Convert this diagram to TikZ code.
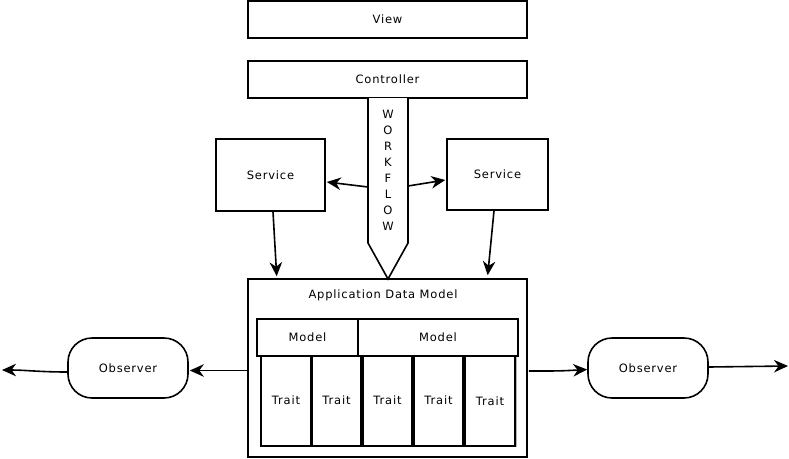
\documentclass[tikz,border=0pt]{standalone}
\usepackage{fontspec}
\setmainfont{DejaVu Sans}[LetterSpace=7]
\usetikzlibrary{arrows.meta,calc}
\begin{document}
\begin{tikzpicture}[x=1pt,y=-1pt,
  lbl/.style={font=\fontsize{11.5}{13}\selectfont},
  box/.style={draw,line width=1.6pt,inner sep=0pt,lbl},
  obs/.style={box,rounded corners=24pt,minimum width=120pt,minimum height=60pt},
  trait/.style={box,minimum width=49pt,minimum height=90pt},
  arr/.style={line width=1.6pt,-{Stealth[length=14pt,width=12.5pt,inset=4.5pt]}},
]
\useasboundingbox (0,0) rectangle (789,458);

% top layer
\node[box,minimum width=279pt,minimum height=37pt] (view) at (387.5,19.5) {View};
\node[box,minimum width=279pt,minimum height=37pt] (ctrl) at (387.5,79.5) {Controller};

% services
\node[box,minimum width=109pt,minimum height=72pt] (svcL) at (270.5,175) {Service};
\node[box,minimum width=101pt,minimum height=71pt] (svcR) at (497.5,174.5) {Service};

% workflow arrow hanging below the controller
\draw[line width=1.6pt,line join=miter,fill=white]
  (368,98) -- (368,243) -- (388,279) -- (408,243) -- (408,98);
\node[lbl,align=center,inner sep=0pt,font=\fontsize{11.5}{16}\selectfont] (wf) at (388,170.5)
  {W\\O\\R\\K\\F\\L\\O\\W};
\coordinate (wfL) at (368,187);
\coordinate (wfR) at (408,186);

% application data model
\node[box,minimum width=279pt,minimum height=178pt] (adm) at (387.5,368) {};
\node[lbl] (admlbl) at (383,295) {Application Data Model};
\node[box,minimum width=101pt,minimum height=37pt] (m1) at (307.5,337.5) {Model};
\node[box,minimum width=160pt,minimum height=37pt] (m2) at (438,337.5) {Model};

% traits, with a faint grey edge on the right
\foreach \x/\w/\n in {286/50/1,336.5/49/2,438.5/49/4,490/50/5}
  \draw[gray!60,line width=0.8pt] (\x+\w/2+1.4,357) -- (\x+\w/2+1.4,446.5);
\node[trait,minimum width=50pt] (t1) at (286,401) {};
\node[trait] (t2) at (336.5,401) {};
\node[trait] (t3) at (387.5,401) {};
\node[trait] (t4) at (438.5,401) {};
\node[trait,minimum width=50pt] (t5) at (490,401) {};
\node[lbl] (t1l) at (286,400) {Trait};
\node[lbl] (t2l) at (336.5,400) {Trait};
\node[lbl] (t3l) at (387.5,400) {Trait};
\node[lbl] (t4l) at (438.5,400) {Trait};
\node[lbl] (t5l) at (490,401.5) {Trait};

% observers
\node[obs] (obsL) at (128,368) {Observer};
\node[obs] (obsR) at (648,368) {Observer};
\coordinate (outL) at (2,370);
\coordinate (outR) at (788,366);

% connectors
\draw[arr] (wfL) -- ($(svcL.east)+(1,7)$);
\draw[arr] (wfR) -- ($(svcR.west)+(-1,5.5)$);
\draw[arr] ($(svcL.south)+(2.5,0)$) -- ($(adm.north west)+(29.5,-2)$);
\draw[arr] ($(svcR.south)+(-3.5,0)$) -- ($(adm.north west)+(240.5,-3)$);
\draw[arr] ($(adm.west)+(0,2.5)$) -- ($(obsL.east)+(1,2.5)$);
\draw[arr] ($(obsL.west)+(0,4)$) .. controls (40,372) and (25,370) .. (outL);
\draw[arr] ($(adm.east)+(1,3)$) .. controls (560,371) .. ($(obsR.west)+(0,1.5)$);
\draw[arr] ($(obsR.east)+(0,-1)$) -- (outR);
\end{tikzpicture}
\end{document}
